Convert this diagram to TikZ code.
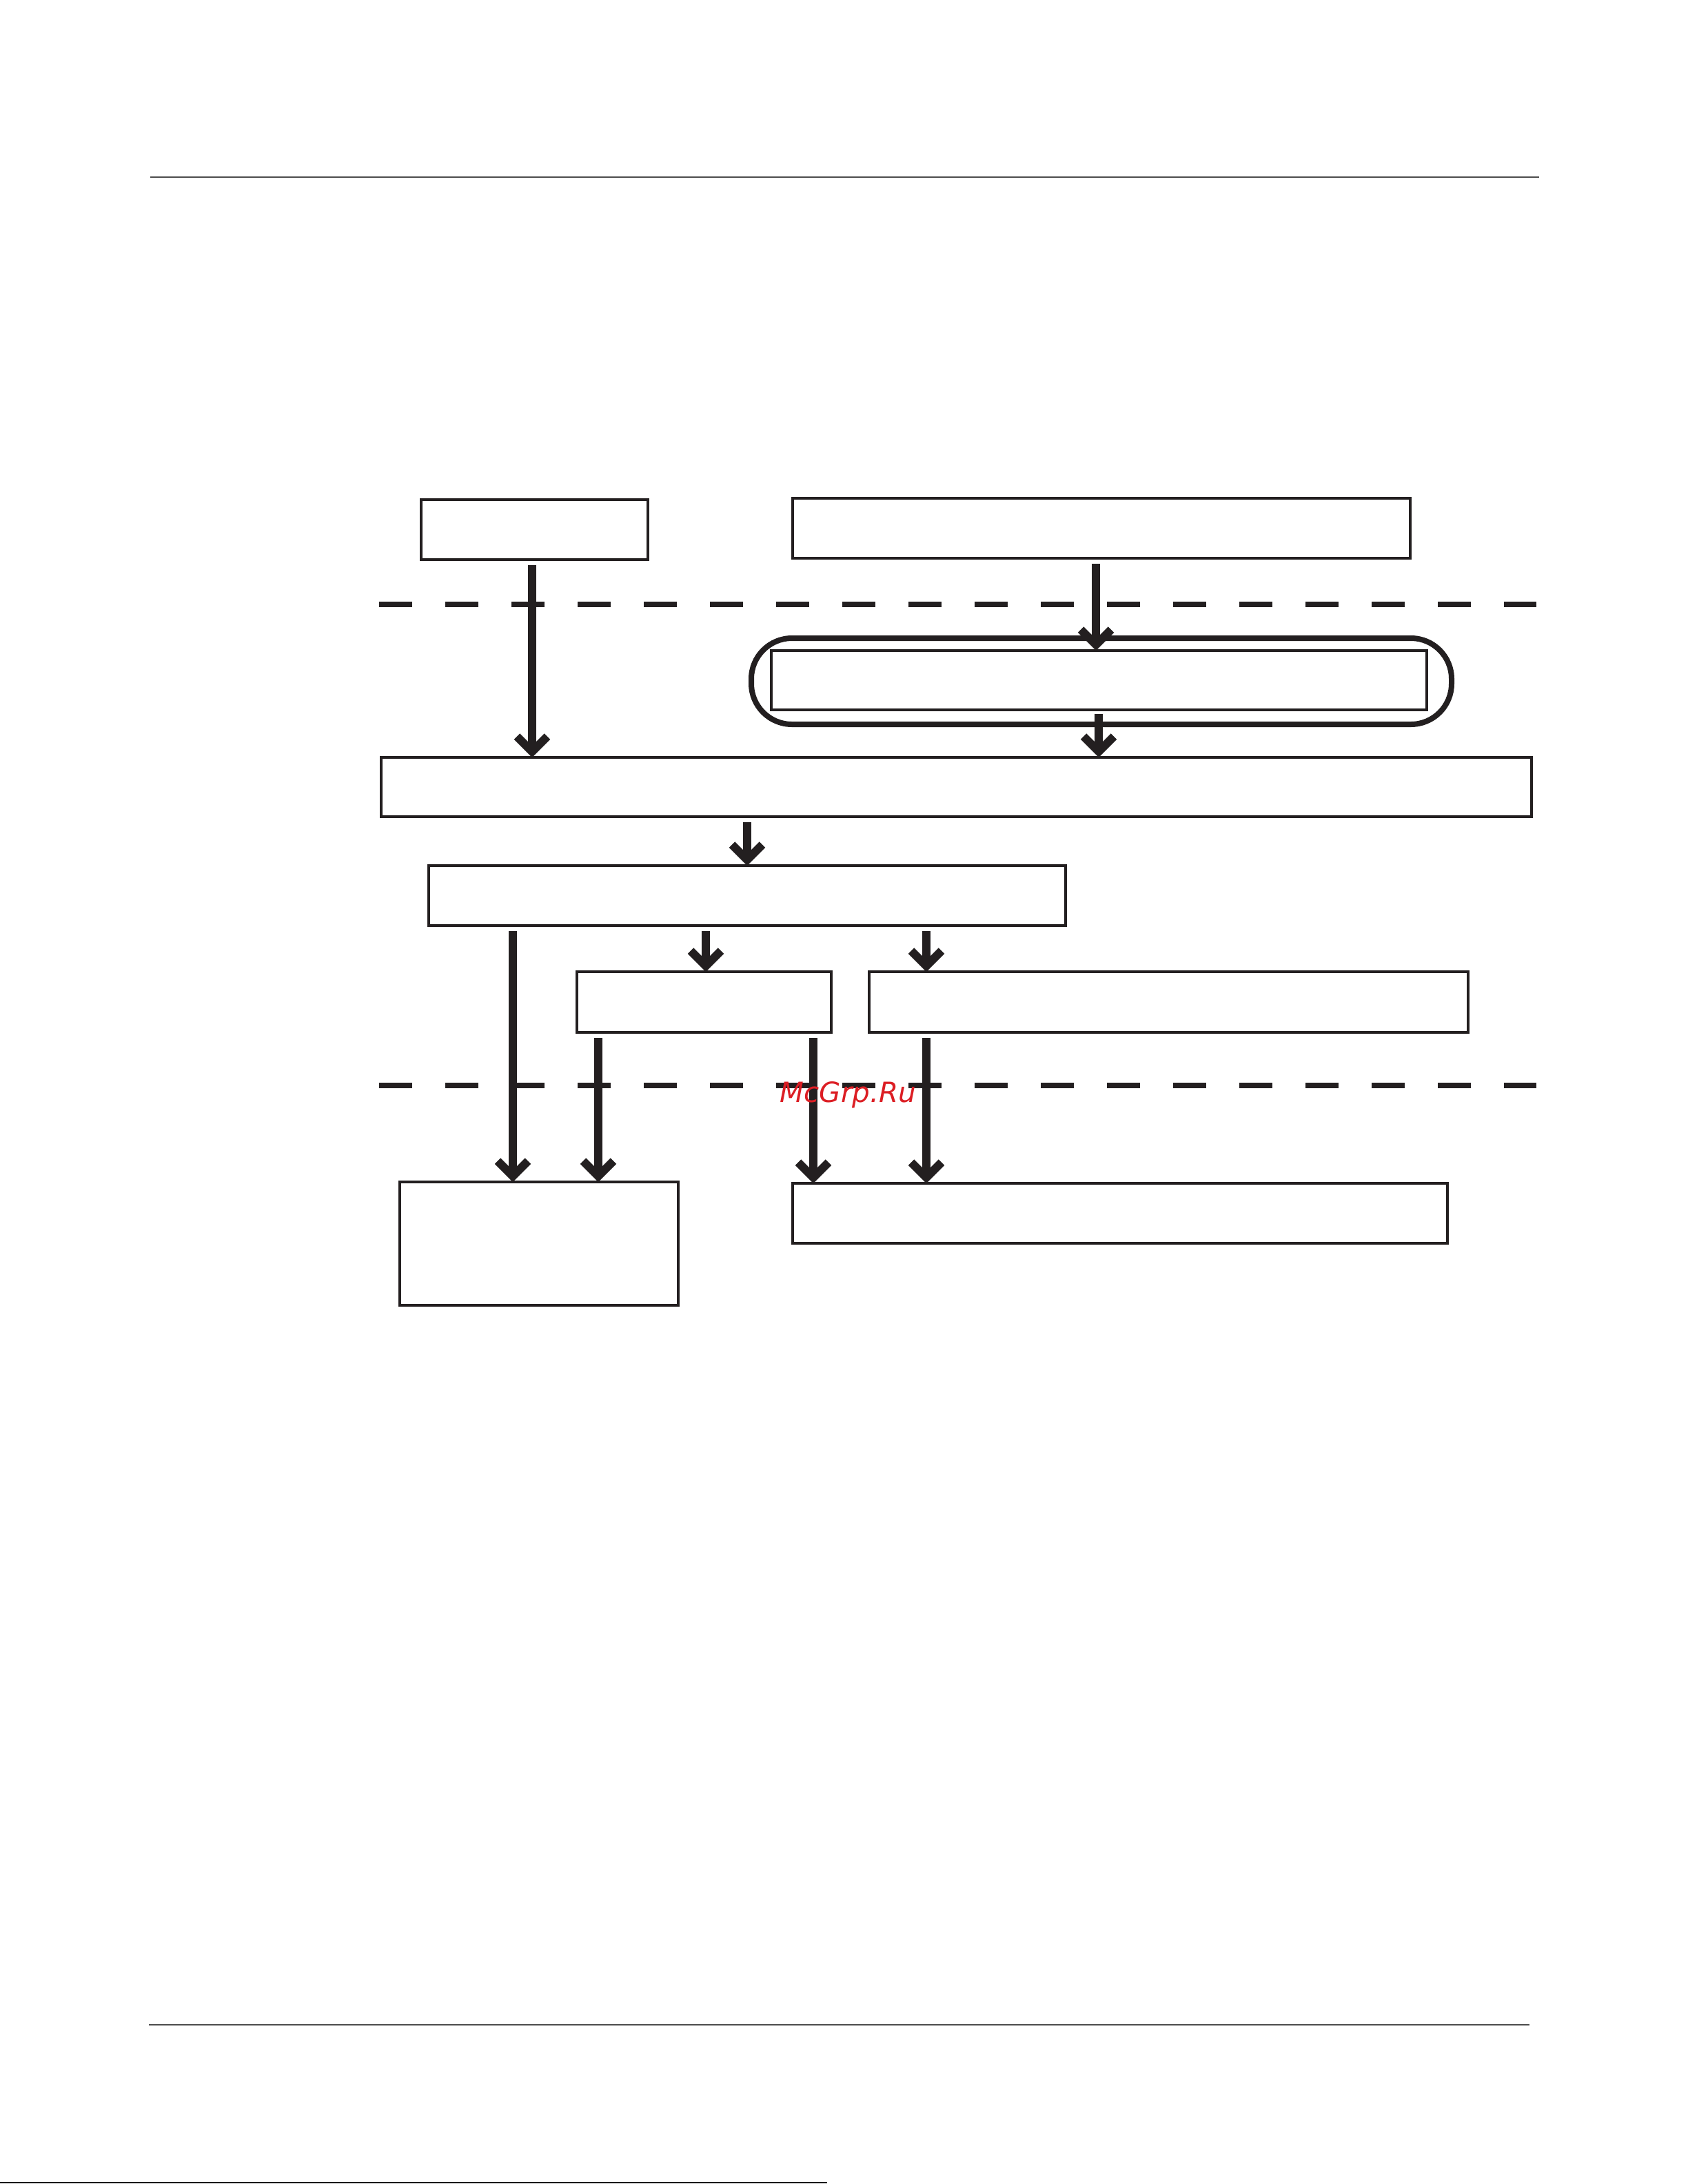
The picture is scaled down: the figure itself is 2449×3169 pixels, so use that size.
\documentclass[tikz,border=0pt]{standalone}
\usepackage{fontspec}
\newfontfamily\wmfont{DejaVu Sans}
\usetikzlibrary{arrows.meta,calc}
\definecolor{ink}{HTML}{231F20}
\definecolor{wmred}{RGB}{220,30,36}
\begin{document}
\begin{tikzpicture}[x=0.1mm,y=-0.1mm,
  box/.style={draw=ink, line width=0.35mm, rectangle, inner sep=0pt, outer sep=0pt},
  arr/.style={draw=ink, line width=1.2mm, -{Straight Barb[length=2.2mm,width=4.4mm,line width=1.2mm]}},
  sepline/.style={draw=ink, line width=0.8mm, dash pattern=on 4.8mm off 4.8mm},
  rulestyle/.style={draw=black!70, line width=0.2mm}]
\useasboundingbox[fill=white] (0,0) rectangle (2449,3169);
% page rules
\draw[rulestyle] (218,257) -- (2233,257);
\draw[rulestyle] (216,2938) -- (2219,2938);
\draw[draw=black, line width=0.2mm] (0,3167) -- (1200,3167);
% separators
\draw[sepline] (550,877) -- (2229,877);
\draw[sepline] (550,1575) -- (2229,1575);
% boxes
\node[box, minimum width=32.9mm, minimum height=8.7mm] (A) at (775.5,768.5) {};
\node[box, minimum width=89.6mm, minimum height=8.7mm] (B) at (1598,766.5) {};
\node[box, line width=0.8mm, rounded corners=5.9mm, minimum width=101.6mm, minimum height=12.5mm] (R) at (1598,988.5) {};
\node[box, minimum width=95.1mm, minimum height=8.6mm] (I) at (1594.5,987) {};
\node[box, minimum width=166.9mm, minimum height=8.6mm] (C) at (1387.5,1142) {};
\node[box, minimum width=92.4mm, minimum height=8.7mm] (D) at (1084,1299.5) {};
\node[box, minimum width=36.9mm, minimum height=8.8mm] (E) at (1021.5,1454) {};
\node[box, minimum width=86.9mm, minimum height=8.8mm] (G) at (1695.5,1454) {};
\node[box, minimum width=40.4mm, minimum height=17.9mm] (F) at (782,1804.5) {};
\node[box, minimum width=95.0mm, minimum height=8.7mm] (H) at (1625,1760.5) {};
% columns
\coordinate (k772) at (772,0);
\coordinate (k1590) at (1590,0);
\coordinate (k1594) at (1594,0);
\coordinate (k1084) at (1084,0);
\coordinate (k744) at (744,0);
\coordinate (k1024) at (1024,0);
\coordinate (k1344) at (1344,0);
\coordinate (k868) at (868,0);
\coordinate (k1180) at (1180,0);
% arrows
\draw[arr] ($(A.south -| k772)+(0,8)$) -- (C.north -| k772);
\draw[arr] ($(B.south -| k1590)+(0,8)$) -- (I.north -| k1590);
\draw[arr] ($(I.south -| k1594)+(0,6)$) -- (C.north -| k1594);
\draw[arr] ($(C.south -| k1084)+(0,8)$) -- (D.north -| k1084);
\draw[arr] ($(D.south -| k744)+(0,8)$) -- (F.north -| k744);
\draw[arr] ($(D.south -| k1024)+(0,8)$) -- (E.north -| k1024);
\draw[arr] ($(D.south -| k1344)+(0,8)$) -- (G.north -| k1344);
\draw[arr] ($(E.south -| k868)+(0,8)$) -- (F.north -| k868);
\draw[arr] ($(E.south -| k1180)+(0,8)$) -- (H.north -| k1180);
\draw[arr] ($(G.south -| k1344)+(0,8)$) -- (H.north -| k1344);
% watermark
\node[anchor=base west, inner sep=0pt, text=wmred, font=\wmfont\itshape\fontsize{11.5pt}{13pt}\selectfont] (wm) at (1131,1599) {McGrp.Ru};
\end{tikzpicture}
\end{document}
